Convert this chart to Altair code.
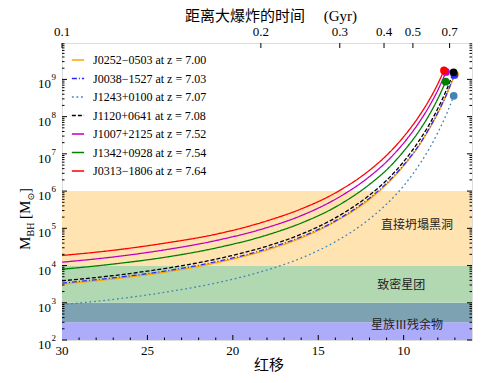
import altair as alt
import pandas as pd

# ---------------- data ----------------
names = ["J0252−0503", "J0038−1527", "J1243+0100", "J1120+0641",
         "J1007+2125", "J1342+0928", "J0313−1806"]
z_qso = [7.00, 7.03, 7.07, 7.08, 7.52, 7.54, 7.64]
logm_qso = [9.14, 9.12, 8.56, 9.19, 9.20, 8.94, 9.24]

z_track = [30, 27, 24, 21, 18, 16, 14, 12, 11, 10, 9, 8.5, 8, 7.5]
logm_J0252 = [3.50, 3.64, 3.82, 4.07, 4.42, 4.74, 5.18, 5.78, 6.18, 6.68, 7.29, 7.67, 8.09, 8.58]
logm_J0038 = [3.53, 3.67, 3.85, 4.10, 4.45, 4.77, 5.20, 5.81, 6.21, 6.70, 7.31, 7.69, 8.11, 8.59]
logm_J1243 = [2.95, 3.09, 3.28, 3.53, 3.88, 4.20, 4.64, 5.25, 5.65, 6.14, 6.77, 7.14, 7.57, 8.06]
logm_J1120 = [3.59, 3.73, 3.92, 4.17, 4.52, 4.84, 5.28, 5.89, 6.29, 6.79, 7.42, 7.79, 8.22, 8.71]
logm_J1007 = [4.09, 4.23, 4.42, 4.67, 5.02, 5.34, 5.78, 6.39, 6.79, 7.29, 7.91, 8.28, 8.71]
logm_J1342 = [3.90, 4.04, 4.22, 4.47, 4.82, 5.14, 5.57, 6.18, 6.57, 7.07, 7.68, 8.05, 8.48]
logm_J0313 = [4.27, 4.41, 4.60, 4.84, 5.20, 5.52, 5.95, 6.56, 6.96, 7.46, 8.08, 8.45, 8.88]
tracks = [logm_J0252, logm_J0038, logm_J1243, logm_J1120, logm_J1007, logm_J1342, logm_J0313]

colors = ["#ffa500", "#2a2aff", "#4682b4", "#000000", "#bf00bf", "#008000", "#ff0000"]
dashes = [[1, 0], [5, 2, 1, 2], [1.8, 2.8], [4, 2], [1, 0], [1, 0], [1, 0]]
widths = [1.3, 1.3, 2.0, 1.3, 1.3, 1.3, 2.8]

# seed-mass bands (log10 M lower, upper)
band_lo = [2.0, 2.475, 3.0, 4.0]
band_hi = [2.475, 3.0, 4.0, 6.0]
band_col = ["#acacfa", "#7da3b3", "#b2d8b2", "#ffe4b2"]
band_text = ["直接坍塌黑洞", "致密星团", "星族Ⅲ残余物"]
band_text_z = [9.22, 10.14, 9.80]
band_text_logm = [5.10, 3.48, 2.40]

x_major = [25, 20, 15, 10]
x_label_vals = [30, 25, 20, 15, 10]
x_labels = ["30", "25", "20", "15", "10"]
x_minor = [29, 28, 27, 26, 24, 23, 22, 21, 19, 18, 17, 16, 14, 13, 12, 11, 9, 8, 7]
y_exps = [2, 3, 4, 5, 6, 7, 8, 9]
y_minor_mult = [2, 3, 4, 5, 6, 7, 8, 9]
age_labels = ["0.1", "0.2", "0.3", "0.4", "0.5", "0.7"]
age_z = [30, 18.36, 13.74, 11.15, 9.46, 7.31]

SERIF = "Liberation Serif"
CJK = "Noto Sans CJK SC"
W, H = 410, 297

# ---------------- tables ----------------
labels = [f"{n} at z = {z:.2f}" for n, z in zip(names, z_qso)]
rows = []
for lab, tr, ze, me in zip(labels, tracks, z_qso, logm_qso):
    for z, lm in zip(z_track, tr):
        rows.append({"label": lab, "z": z, "M": 10 ** lm})
    rows.append({"label": lab, "z": ze, "M": 10 ** me})
df_lines = pd.DataFrame(rows)
df_pts = pd.DataFrame({"z": z_qso, "M": [10 ** m for m in logm_qso], "col": colors})
df_bands = pd.DataFrame({"lo": [10 ** v for v in band_lo], "hi": [10 ** v for v in band_hi], "col": band_col})
df_btext = pd.DataFrame({"t": band_text, "z": band_text_z, "M": [10 ** v for v in band_text_logm]})
df_ymaj = pd.DataFrame({"M": [10.0 ** e for e in y_exps], "base": ["10"] * len(y_exps),
                        "exp": [str(e) for e in y_exps]})
df_ymin = pd.DataFrame({"M": [k * 10.0 ** e for e in y_exps for k in y_minor_mult if k * 10.0 ** e < 9.5e9]})
df_xmaj = pd.DataFrame({"z": x_major})
df_xmin = pd.DataFrame({"z": x_minor})
df_xlab = pd.DataFrame({"z": x_label_vals, "t": x_labels})
df_age = pd.DataFrame({"z": age_z, "t": age_labels})

xs = alt.Scale(domain=[6, 30], reverse=True, nice=False, zero=False)
ys = alt.Scale(type="log", domain=[100, 9.5e9], nice=False)
X = lambda f="z": alt.X(f"{f}:Q", scale=xs, axis=None)
Y = lambda f="M": alt.Y(f"{f}:Q", scale=ys, axis=None)

bands = alt.Chart(df_bands).mark_rect().encode(
    x=alt.datum(30, scale=xs, axis=None), x2=alt.datum(6),
    y=Y("lo"), y2="hi:Q", color=alt.Color("col:N", scale=None))

leg = alt.Legend(title=None, orient="none", legendX=9, legendY=10, symbolType="stroke",
                 symbolSize=150, labelFont=SERIF, labelFontSize=12, rowPadding=5.5,
                 labelOffset=8, padding=0, labelLimit=300, symbolOpacity=1)
lines = alt.Chart(df_lines).mark_line(interpolate="monotone").encode(
    x=X(), y=Y(),
    color=alt.Color("label:N", scale=alt.Scale(domain=labels, range=colors), sort=labels, legend=leg),
    strokeDash=alt.StrokeDash("label:N", scale=alt.Scale(domain=labels, range=dashes), sort=labels, legend=leg),
    strokeWidth=alt.StrokeWidth("label:N", scale=alt.Scale(domain=labels, range=widths), sort=labels, legend=leg),
)
pts = alt.Chart(df_pts).mark_circle(size=60, opacity=1).encode(
    x=X(), y=Y(), color=alt.Color("col:N", scale=None))

btext = alt.Chart(df_btext).mark_text(font=CJK, fontSize=12, color="#222222").encode(
    x=X(), y=Y(), text="t:N")

# ticks (inward)
t_xmaj_b = alt.Chart(df_xmaj).mark_rule(color="black").encode(x=X(), y=alt.value(H), y2=alt.value(H - 5))
t_xmin_b = alt.Chart(df_xmin).mark_rule(color="black").encode(x=X(), y=alt.value(H), y2=alt.value(H - 2.5))
t_age = alt.Chart(df_age).mark_rule(color="black").encode(x=X(), y=alt.value(0), y2=alt.value(5))
t_ymaj_l = alt.Chart(df_ymaj).mark_rule(color="black").encode(y=Y(), x=alt.value(0), x2=alt.value(5))
t_ymaj_r = alt.Chart(df_ymaj).mark_rule(color="black").encode(y=Y(), x=alt.value(W), x2=alt.value(W - 5))
t_ymin_l = alt.Chart(df_ymin).mark_rule(color="black").encode(y=Y(), x=alt.value(0), x2=alt.value(2.5))
t_ymin_r = alt.Chart(df_ymin).mark_rule(color="black").encode(y=Y(), x=alt.value(W), x2=alt.value(W - 2.5))

# tick labels
xlab = alt.Chart(df_xlab).mark_text(font=SERIF, fontSize=13).encode(x=X(), y=alt.value(H + 11), text="t:N")
agelab = alt.Chart(df_age).mark_text(font=SERIF, fontSize=13).encode(x=X(), y=alt.value(-11), text="t:N")
ylab = alt.Chart(df_ymaj).mark_text(font=SERIF, fontSize=13, align="right", dy=5).encode(
    y=Y(), x=alt.value(-11), text="base:N")
yexp = alt.Chart(df_ymaj).mark_text(font=SERIF, fontSize=9, align="left", dy=-2).encode(
    y=Y(), x=alt.value(-10.5), text="exp:N")


def txt(s, x, y, size, font, angle=0, align="center", baseline="middle"):
    return alt.Chart(pd.DataFrame({"t": [s]})).mark_text(
        font=font, fontSize=size, angle=angle, align=align, baseline=baseline, color="black"
    ).encode(x=alt.value(x), y=alt.value(y), text="t:N")


dy_t = -5
titles = [
    txt("距离大爆炸的时间\u3000 (Gyr)", 209, -27, 15, SERIF + ", " + CJK),
    txt("红移", 207, 322, 15, CJK),
    txt("M", -32, 212 + dy_t, 15, SERIF, angle=270, align="left", baseline="alphabetic"),
    txt("BH", -28.5, 198.5 + dy_t, 10, SERIF, angle=270, align="left", baseline="alphabetic"),
    txt("[", -32, 181 + dy_t, 15, SERIF, angle=270, align="left", baseline="alphabetic"),
    txt("M", -32, 176 + dy_t, 15, SERIF, angle=270, align="left", baseline="alphabetic"),
    txt("⊙", -28.5, 162.5 + dy_t, 9, "DejaVu Sans", angle=270, align="left", baseline="alphabetic"),
    txt("]", -32, 155 + dy_t, 15, SERIF, angle=270, align="left", baseline="alphabetic"),
]

chart = alt.layer(
    bands, lines, pts, btext,
    t_xmaj_b, t_xmin_b, t_age, t_ymaj_l, t_ymaj_r, t_ymin_l, t_ymin_r,
    xlab, agelab, ylab, yexp, *titles
).properties(
    width=W, height=H,
    padding={"left": 54, "top": 35, "right": 23, "bottom": 35},
    autosize=alt.AutoSizeParams(type="none"),
).configure_view(stroke="black", strokeWidth=1.3).configure(background="white")

chart.save("out.html", embed_options={"renderer": "svg", "actions": False})
